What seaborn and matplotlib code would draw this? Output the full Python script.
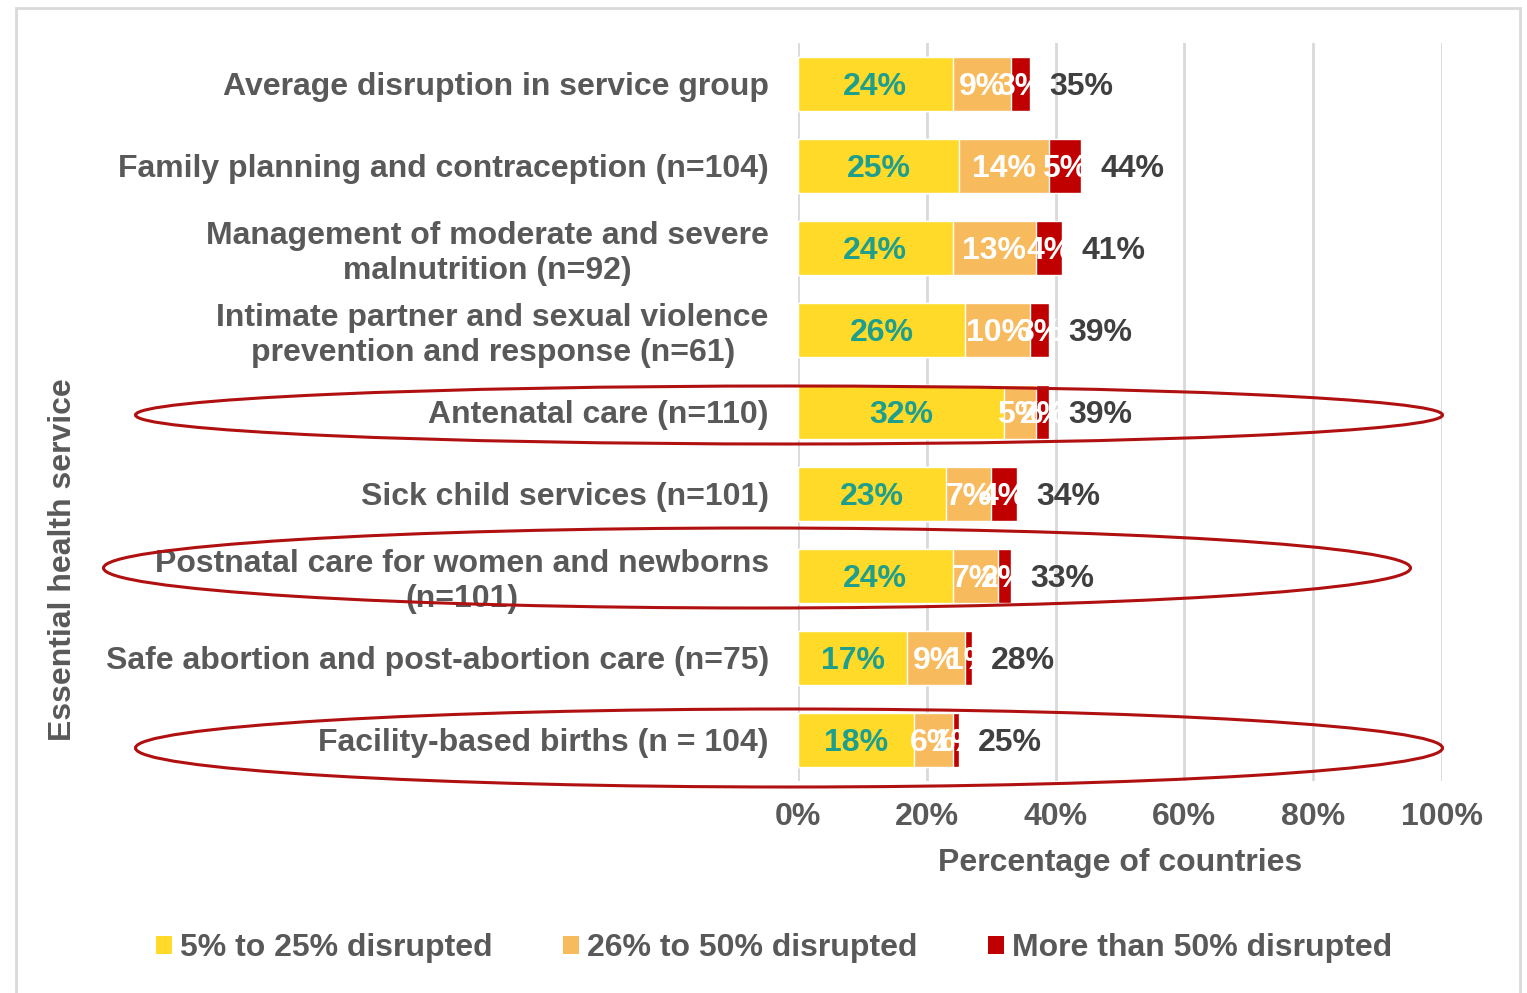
import pandas as pd
import seaborn as sns
import matplotlib.pyplot as plt
from matplotlib.patches import Ellipse, Rectangle, Patch

services = [
    "Average disruption in service group",
    "Family planning and contraception (n=104)",
    "Management of moderate and severe\nmalnutrition (n=92)",
    "Intimate partner and sexual violence\nprevention and response (n=61)",
    "Antenatal care (n=110)",
    "Sick child services (n=101)",
    "Postnatal care for women and newborns\n(n=101)",
    "Safe abortion and post-abortion care (n=75)",
    "Facility-based births (n = 104)",
]
low = [24, 25, 24, 26, 32, 23, 24, 17, 18]      # 5% to 25% disrupted
mid = [9, 14, 13, 10, 5, 7, 7, 9, 6]            # 26% to 50% disrupted
high = [3, 5, 4, 3, 2, 4, 2, 1, 1]              # more than 50% disrupted
totals = [35, 44, 41, 39, 39, 34, 33, 28, 25]

series_names = ["5% to 25% disrupted", "26% to 50% disrupted", "More than 50% disrupted"]
colors = ["#FFDA29", "#F7BA5C", "#C00000"]

FS = 23

sns.set_style("white")
plt.rcParams['font.family'] = ['Liberation Sans', 'DejaVu Sans']
plt.rcParams['font.weight'] = 'bold'

df = pd.DataFrame({"service": services, "low": low, "mid": mid, "high": high})
df["c1"] = df["low"]
df["c2"] = df["low"] + df["mid"]
df["c3"] = df["low"] + df["mid"] + df["high"]

fig = plt.figure(figsize=(15.27, 9.93), dpi=100)
ax = fig.add_axes([0.5226, 0.2135, 0.4217, 0.7432])

# stacked bars: draw cumulative totals back to front
for col, c in zip(["c3", "c2", "c1"], colors[::-1]):
    sns.barplot(data=df, x=col, y="service", color=c, width=0.66,
                saturation=1, ax=ax, orient="h")

ax.set_xlim(0, 100)
ax.set_ylim(8.5, -0.5)
ax.set_xticks(range(0, 101, 20))
ax.set_xticklabels([f"{v}%" for v in range(0, 101, 20)])
ax.xaxis.grid(True, color="#D9D9D9", linewidth=2)
ax.set_axisbelow(True)
for s in ax.spines.values():
    s.set_visible(False)
ax.tick_params(axis="both", length=0, labelcolor="#595959", labelsize=FS)
ax.tick_params(axis="y", pad=21)
ax.tick_params(axis="x", pad=15)
plt.setp(ax.get_yticklabels(), multialignment="center", linespacing=1.2)
ax.set_ylabel("")
ax.set_xlabel("Percentage of countries", fontsize=FS, color="#595959",
              fontweight="bold", labelpad=12)

# value labels
for i in range(len(services)):
    ax.text(low[i] / 2, i, f"{low[i]}%", ha="center", va="center_baseline",
            color="#1E9E8C", fontsize=FS, fontweight="bold")
    ax.text(low[i] + mid[i] / 2, i, f"{mid[i]}%", ha="center", va="center_baseline",
            color="white", fontsize=FS, fontweight="bold")
    ax.text(low[i] + mid[i] + high[i] / 2, i, f"{high[i]}%", ha="center", va="center_baseline",
            color="white", fontsize=FS, fontweight="bold")
    ax.text(low[i] + mid[i] + high[i] + 3, i, f"{totals[i]}%", ha="left", va="center_baseline",
            color="#404040", fontsize=FS, fontweight="bold")

fig.text(63 / 1527, 1 - 560 / 993, "Essential health service", rotation=90,
         ha="center", va="center", fontsize=FS, color="#595959", fontweight="bold")

handles = [Patch(facecolor=c, edgecolor="none") for c in colors]
fig.legend(handles, series_names, loc="center", ncol=3,
           bbox_to_anchor=(0.507, 1 - 948 / 993), frameon=False,
           fontsize=FS, labelcolor="#595959", handlelength=0.5, handleheight=0.5,
           handletextpad=0.25, columnspacing=2.2)

# highlight ellipses and frame (figure coordinates)
W, H = 1527, 993
for cx, cy, w, h in [(789, 415, 1307, 58), (757, 568, 1307, 80), (789, 748, 1307, 78)]:
    fig.add_artist(Ellipse((cx / W, 1 - cy / H), w / W, h / H, transform=fig.transFigure,
                           fill=False, edgecolor="#B01010", linewidth=2.2))
fig.add_artist(Rectangle((16 / W, -0.01), 1504 / W, 1 - 8 / H + 0.01, transform=fig.transFigure,
                         fill=False, edgecolor="#D9D9D9", linewidth=2))

fig.savefig("out.png", dpi=100)
